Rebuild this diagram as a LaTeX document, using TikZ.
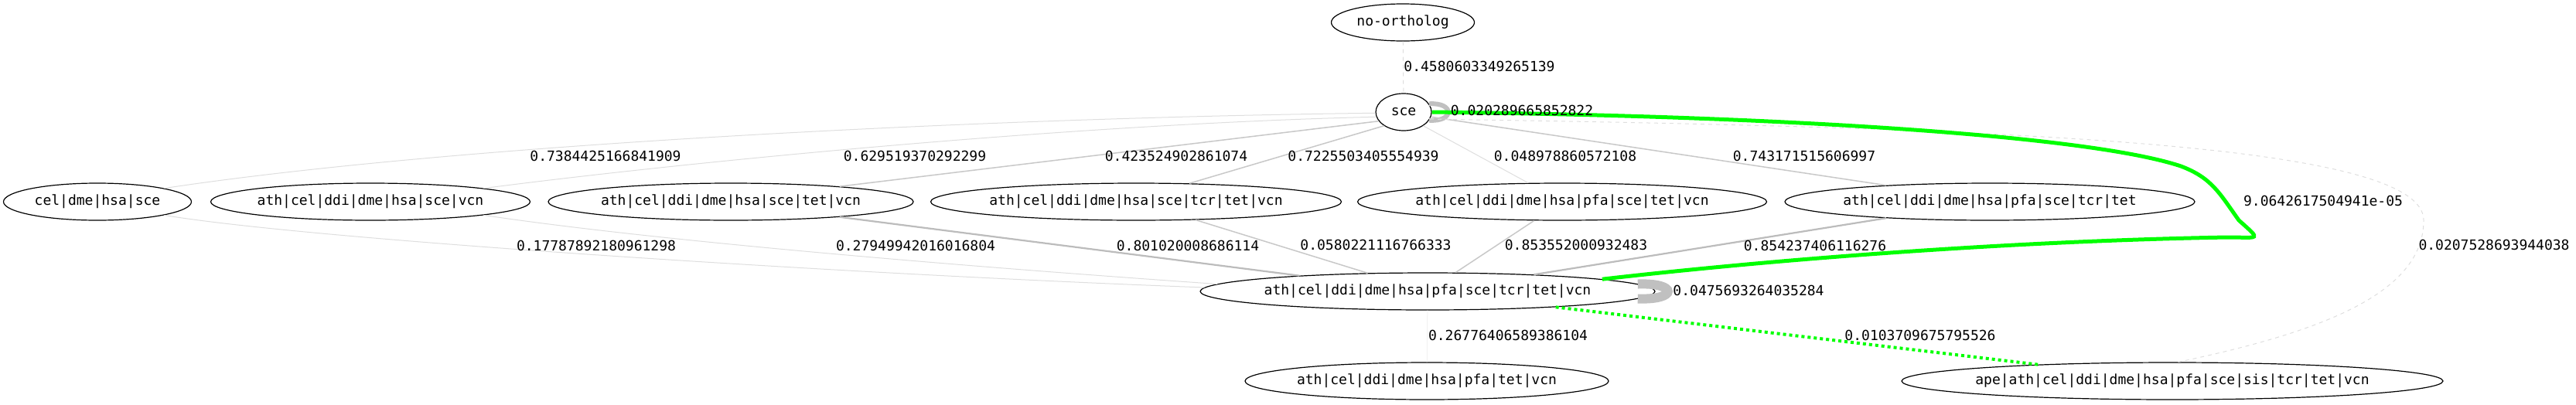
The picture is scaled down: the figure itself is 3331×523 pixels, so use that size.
\documentclass[tikz,border=0pt]{standalone}
\usepackage{fontspec}
\setmonofont{DejaVu Sans Mono}
\usepackage{tikz}
\usetikzlibrary{shapes.geometric}
\usepackage{color}
\definecolor{bestgreen}{RGB}{0,255,0}
\definecolor{loopgray}{RGB}{192,192,192}
\definecolor{edgelight}{RGB}{222,222,222}
\definecolor{edgemid}{RGB}{200,200,200}
\definecolor{edgedark}{RGB}{188,188,188}
\newcommand{\taxa}[1]{\makebox[0pt]{#1}}
\newcommand{\nodeheight}{48}
\tikzset{
    common/.style={font=\ttfamily\fontsize{18}{21}\selectfont},
    taxon/.style={common, draw, ellipse, line width=1.2, inner sep=0pt, minimum height=\nodeheight},
    weight/.style={common, inner sep=0pt},
    faint/.style={draw=edgelight, line width=1},
    medium/.style={draw=edgemid, line width=1.5},
    strong/.style={draw=edgedark, line width=2.2},
    missing/.style={draw=edgelight, line width=1, dash pattern=on 5pt off 5pt},
    selfloop/.style={draw=loopgray, line width=6},
    best/.style={draw=bestgreen, line width=5},
    bestdotted/.style={draw=bestgreen, line width=4, dash pattern=on 4pt off 4pt},
}
\begin{document}
\begin{tikzpicture}[x=1pt, y=-1pt]
          \useasboundingbox (0,0) rectangle (3331,523);

          \node[taxon, minimum width=185] (noorth) at (1814,29) {\taxa{no-ortholog}};
          \node[taxon, minimum width=72] (sce) at (1815,145) {\taxa{sce}};

          \path (126,261) node[taxon, minimum width=243] (m1) {\taxa{cel|dme|hsa|sce}}
              ++(353,0) node[taxon, minimum width=413] (m2) {\taxa{ath|cel|ddi|dme|hsa|sce|vcn}}
              ++(466,0) node[taxon, minimum width=472] (m3) {\taxa{ath|cel|ddi|dme|hsa|sce|tet|vcn}}
              ++(524,0) node[taxon, minimum width=531] (m4) {\taxa{ath|cel|ddi|dme|hsa|sce|tcr|tet|vcn}}
              ++(551,0) node[taxon, minimum width=529] (m5) {\taxa{ath|cel|ddi|dme|hsa|pfa|sce|tet|vcn}}
              ++(553,0) node[taxon, minimum width=530] (m6) {\taxa{ath|cel|ddi|dme|hsa|pfa|sce|tcr|tet}};

          \node[taxon, minimum width=588] (core) at (1846,377) {\taxa{ath|cel|ddi|dme|hsa|pfa|sce|tcr|tet|vcn}};
          \node[taxon, minimum width=470] (low) at (1845,493) {\taxa{ath|cel|ddi|dme|hsa|pfa|tet|vcn}};
          \node[taxon, minimum width=700] (ape) at (2809,493) {\taxa{ape|ath|cel|ddi|dme|hsa|pfa|sce|sis|tcr|tet|vcn}};

          % edges from sce
          \draw[missing] (noorth) -- (sce);
          \draw[selfloop] (sce.18) .. controls +(33,-2) and +(33,2) .. (sce.-18);
          \draw[faint] (sce.182) .. controls (1300,152) and (600,185) .. (m1.north east);
          \draw[faint] (sce.190) .. controls (1400,160) and (900,208) .. (m2.north east);
          \draw[medium] (sce.200) -- (m3.8);
          \draw[medium] (sce.215) -- (m4.19);
          \draw[faint] (sce.-35) -- (m5.151);
          \draw[medium] (sce.-10) -- (m6.171);

          % edges into the core group
          \draw[faint] (m1.south east) .. controls (400,310) and (1100,355) .. (core.179);
          \draw[faint] (m2.south east) .. controls (850,312) and (1250,345) .. (core.178);
          \draw[strong] (m3.-8) -- (core.173);
          \draw[medium] (m4.-17) -- (core.163);
          \draw[medium] (m5.214) -- (core.34);
          \draw[strong] (m6.189) -- (core.9);
          \draw[selfloop, line width=12] (core.2) .. controls +(52,-2) and +(52,2) .. (core.-2);
          \draw[faint, draw=gray!10] (core) -- (low);
          \draw[bestdotted] (core.-7) -- (ape.173);

          \draw[missing] (sce.-15) .. controls (2600,165) and (3134,185) .. (3134,285)
              .. controls (3134,380) and (3000,430) .. (ape.73);
          \draw[best] (sce.east) .. controls (2300,150) and (2700,175) .. (2820,215)
              .. controls (2860,230) and (2870,250) .. (2895,285)
              .. controls (2925,312) and (2922,307) .. (2880,307)
              .. controls (2600,312) and (2300,335) .. (core.4);

          \node[weight] (w-noorth-sce) at (1913,86) {0.4580603349265139};
          \node[weight] (w-sce-sce) at (1968,143) {0.020289665852822};
          \node[weight] (w-sce-m1) at (783,202) {0.7384425166841909};
          \node[weight] (w-sce-m2) at (1183,202) {0.629519370292299};
          \node[weight] (w-sce-m3) at (1521,202) {0.423524902861074};
          \node[weight] (w-sce-m4) at (1763,202) {0.7225503405554939};
          \node[weight] (w-sce-m5) at (2024,202) {0.048978860572108};
          \node[weight] (w-sce-m6) at (2333,202) {0.743171515606997};
          \node[weight] (w-m1-core) at (771,318) {0.17787892180961298};
          \node[weight] (w-m2-core) at (1184,318) {0.27949942016016804};
          \node[weight] (w-m3-core) at (1536,318) {0.801020008686114};
          \node[weight] (w-m4-core) at (1779,317) {0.0580221116766333};
          \node[weight] (w-m5-core) at (2038,317) {0.853552000932483};
          \node[weight] (w-m6-core) at (2347,318) {0.854237406116276};
          \node[weight] (w-sce-core) at (3004,260) {9.0642617504941e-05};
          \node[weight] (w-sce-ape) at (3225,317) {0.0207528693944038};
          \node[weight] (w-core-core) at (2261,376) {0.0475693264035284};
          \node[weight] (w-core-low) at (1950,434) {0.26776406589386104};
          \node[weight] (w-core-ape) at (2483,434) {0.0103709675795526};

      \end{tikzpicture}
\end{document}
